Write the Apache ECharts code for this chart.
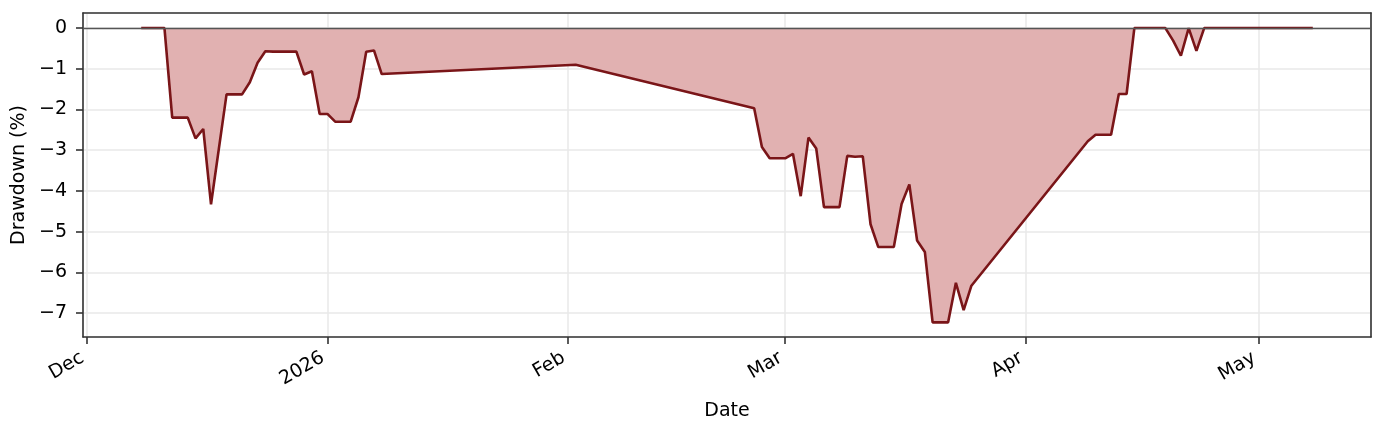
<!DOCTYPE html>
<html><head><meta charset="utf-8">
<script src="https://cdn.jsdelivr.net/npm/echarts@6/dist/echarts.min.js"></script>
<style>html,body{margin:0;padding:0;background:#fff}#c{width:1386px;height:433px}</style>
</head><body><div id="c"></div>
<script>
const dates = [
 '2025-12-08','2025-12-09','2025-12-10','2025-12-11','2025-12-12','2025-12-13','2025-12-14','2025-12-15','2025-12-16','2025-12-17',
 '2025-12-19','2025-12-20','2025-12-21','2025-12-22','2025-12-23','2025-12-24','2025-12-25','2025-12-26','2025-12-27','2025-12-28',
 '2025-12-29','2025-12-30','2025-12-31','2026-01-01','2026-01-02','2026-01-03','2026-01-04','2026-01-05','2026-01-06','2026-01-07',
 '2026-01-08','2026-02-02','2026-02-25','2026-02-26','2026-02-27','2026-02-28','2026-03-01','2026-03-02','2026-03-03','2026-03-04',
 '2026-03-05','2026-03-06','2026-03-07','2026-03-08','2026-03-09','2026-03-10','2026-03-11','2026-03-12','2026-03-13','2026-03-14',
 '2026-03-15','2026-03-16','2026-03-17','2026-03-18','2026-03-19','2026-03-20','2026-03-21','2026-03-22','2026-03-23','2026-03-24',
 '2026-03-25','2026-04-09','2026-04-10','2026-04-11','2026-04-12','2026-04-13','2026-04-14','2026-04-15','2026-04-16','2026-04-17',
 '2026-04-18','2026-04-19','2026-04-20','2026-04-21','2026-04-22','2026-04-23','2026-04-24','2026-04-25','2026-04-26','2026-04-27',
 '2026-04-28','2026-04-29','2026-04-30','2026-05-01','2026-05-02','2026-05-03','2026-05-04','2026-05-05','2026-05-06','2026-05-07',
 '2026-05-08'
];
const drawdown = [
 0,0,0,0,-2.20,-2.20,-2.20,-2.71,-2.48,-4.33,
 -1.63,-1.63,-1.63,-1.33,-0.85,-0.57,-0.58,-0.58,-0.58,-0.58,
 -1.14,-1.06,-2.11,-2.11,-2.30,-2.30,-2.30,-1.70,-0.58,-0.55,
 -1.13,-0.90,-1.97,-2.92,-3.20,-3.20,-3.20,-3.09,-4.13,-2.69,
 -2.96,-4.40,-4.40,-4.40,-3.14,-3.16,-3.15,-4.82,-5.38,-5.38,
 -5.38,-4.32,-3.84,-5.22,-5.50,-7.23,-7.23,-7.23,-6.26,-6.93,
 -6.33,-2.78,-2.62,-2.62,-2.62,-1.62,-1.62,0,0,0,
 0,0,-0.31,-0.68,0,-0.56,0,0,0,0,
 0,0,0,0,0,0,0,0,0,0,
 0
];
const monthNames = ['Jan','Feb','Mar','Apr','May','Jun','Jul','Aug','Sep','Oct','Nov','Dec'];
const xMin = '2025-11-30 12:00';
const xMax = '2026-05-15 12:00';
const yMin = -7.59, yMax = 0.37;

const font = 'DejaVu Sans';
const fs = 19;
const spine = {color:'#333',width:1.6};
const chart = echarts.init(document.getElementById('c'), null, {renderer:'canvas'});
chart.setOption({
  animation:false,
  backgroundColor:'#fff',
  grid:{left:83,right:15,top:13,bottom:96,show:false},
  xAxis:[{
    type:'time', min:xMin, max:xMax, splitNumber:5,
    name:'Date', nameLocation:'middle', nameGap:65,
    nameTextStyle:{fontFamily:font,fontSize:fs,color:'#000'},
    axisLine:{show:true,onZero:false,lineStyle:spine},
    axisTick:{show:true,length:7,lineStyle:spine},
    minorTick:{show:false},
    splitLine:{show:true,lineStyle:{color:'#e8e8e8',width:1.5}},
    axisLabel:{rotate:30,fontFamily:font,fontSize:fs,color:'#000',margin:17,padding:[0,5,0,0],hideOverlap:false,
      formatter:function(v){const d=new Date(v);return d.getMonth()===0?String(d.getFullYear()):monthNames[d.getMonth()];}}
  },{
    type:'time', min:xMin, max:xMax, position:'top',
    axisLine:{show:true,onZero:false,lineStyle:spine},
    axisTick:{show:false}, axisLabel:{show:false}, splitLine:{show:false}
  }],
  yAxis:[{
    type:'value', min:yMin, max:yMax, splitNumber:8,
    name:'Drawdown (%)', nameLocation:'middle', nameGap:50,
    nameTextStyle:{fontFamily:font,fontSize:fs,color:'#000'},
    axisLine:{show:true,onZero:false,lineStyle:spine},
    axisTick:{show:true,length:7,lineStyle:spine},
    splitLine:{show:true,lineStyle:{color:'#e8e8e8',width:1.5}},
    axisLabel:{fontFamily:font,fontSize:fs,color:'#000',margin:16,showMinLabel:false,showMaxLabel:false,
      formatter:function(v){if(Math.abs(v-Math.round(v))>1e-6)return '';return String(Math.round(v)).replace('-','\u2212');}}
  },{
    type:'value', min:yMin, max:yMax, position:'right',
    axisLine:{show:true,onZero:false,lineStyle:spine},
    axisTick:{show:false}, axisLabel:{show:false}, splitLine:{show:false}
  }],
  series:[{
    type:'line',
    xAxisIndex:0, yAxisIndex:0,
    data:dates.map((d,i)=>[d,drawdown[i]]),
    showSymbol:false, symbol:'none',
    lineStyle:{color:'#7a1518',width:2.6},
    areaStyle:{color:'#e1b1b1',opacity:1,origin:0},
    z:3,
    markLine:{silent:true,symbol:'none',label:{show:false},
      lineStyle:{color:'#555',width:1.4,type:'solid'},
      data:[{yAxis:0}], z:4}
  }]
});
</script></body></html>
